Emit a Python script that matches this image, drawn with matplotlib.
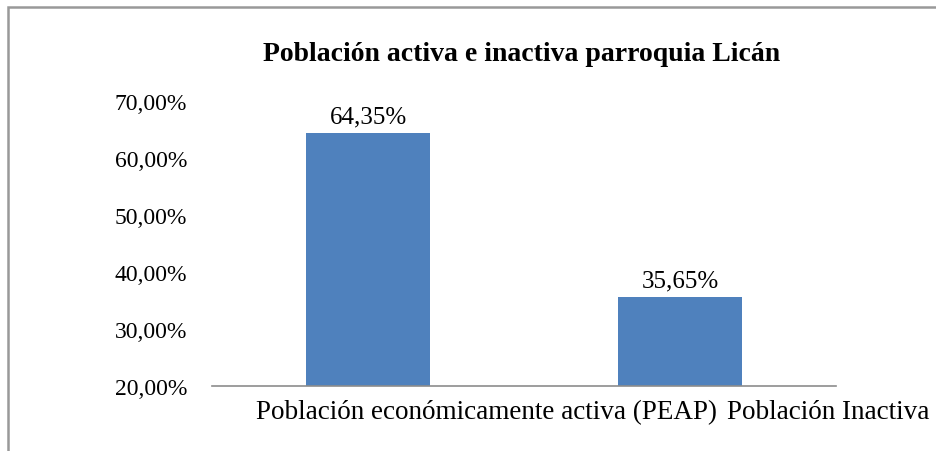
import matplotlib.pyplot as plt
from matplotlib.patches import Rectangle

# data
categorias = ["Población económicamente activa (PEAP)", "Población Inactiva"]
porcentajes = [64.35, 35.65]
etiquetas = ["64,35%", "35,65%"]
ticks_y = [20, 30, 40, 50, 60, 70]

plt.rcParams["font.family"] = ["Liberation Serif", "DejaVu Serif"]

fig = plt.figure(figsize=(9.36, 4.52), dpi=100)
ax = fig.add_axes([0.2265, 0.1438, 0.6667, 0.6305])

x = range(len(categorias))
bars = ax.bar(x, porcentajes, width=0.4, color="#4F81BD")
ax.set_xlim(-0.5, len(categorias) - 0.5)
ax.set_ylim(20, 70)

ax.set_yticks(ticks_y)
ax.set_yticklabels([f"{v:.2f}%".replace(".", ",") for v in ticks_y], fontsize=17)
ax.tick_params(axis="y", length=0, pad=18)
ax.set_xticks([])

for s in ["top", "right", "left"]:
    ax.spines[s].set_visible(False)
ax.spines["bottom"].set_color("#8c8c8c")
ax.spines["bottom"].set_linewidth(1.2)

# value labels above the bars
for b, txt in zip(bars, etiquetas):
    ax.annotate(txt, (b.get_x() + b.get_width() / 2, b.get_height()),
                xytext=(0, 4), textcoords="offset points",
                ha="center", va="bottom", fontsize=18)

# category labels under the axis
x_pos = [0.0705, 0.825]
for xp, cat in zip(x_pos, categorias):
    ax.text(xp, -0.045, cat, transform=ax.transAxes, ha="left", va="top",
            fontsize=19.5)

fig.text(0.557, 0.88, "Población activa e inactiva parroquia Licán",
         ha="center", va="center", fontsize=20, fontweight="bold")

# outer frame of the chart
fig.patches.append(Rectangle((8 / 936, -0.1), 1.2, 1.1 - 8 / 452,
                             transform=fig.transFigure, fill=False,
                             edgecolor="#999999", linewidth=1.8))

fig.savefig("out.png", dpi=100)
